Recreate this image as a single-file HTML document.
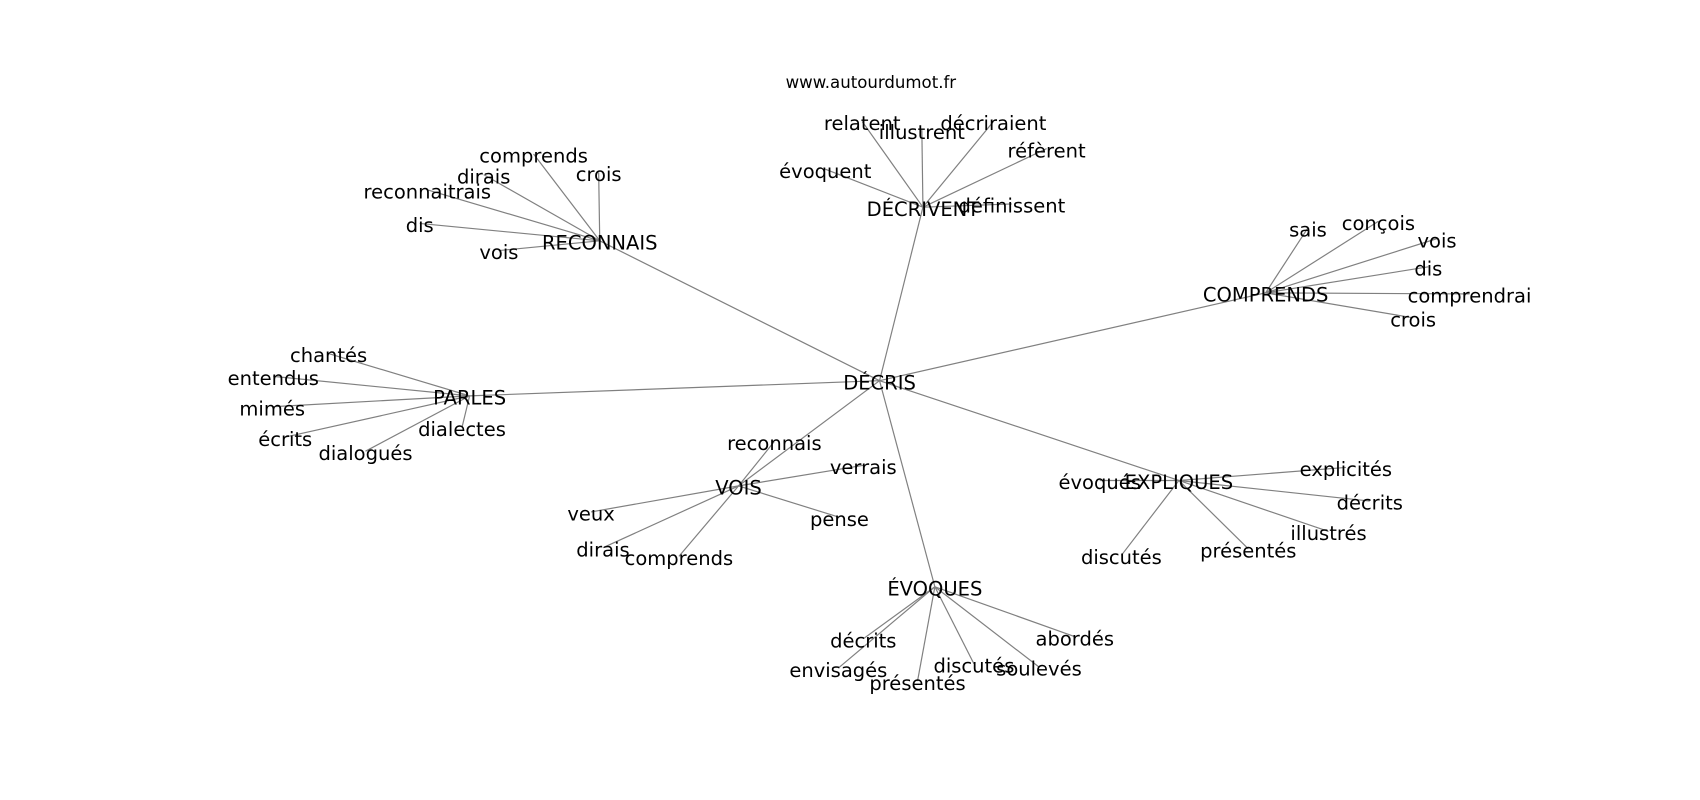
<!DOCTYPE html>
<html><head><meta charset="utf-8"><style>
html,body{margin:0;padding:0;background:#fff;}
svg{display:block}
text{font-family:"DejaVu Sans","Liberation Sans",sans-serif;font-size:18px;fill:#000;text-anchor:middle;dominant-baseline:central}
line{stroke:#808080;stroke-width:1.1}
</style></head><body>
<svg width="1700" height="800" viewBox="0 0 1567.5 737.6" xmlns="http://www.w3.org/2000/svg">
<g id="L"></g>
<text x="803" y="76" style="font-size:15.3px">www.autourdumot.fr</text>
<g id="T"></g>
<script>
const N={
"DÉCRIS":[811,353],
"DÉCRIVENT":[851,193],"RECONNAIS":[553,224],"COMPRENDS":[1167,272],"PARLES":[433,367],"VOIS":[681,450],"EXPLIQUES":[1087,445],"ÉVOQUES":[862,543]};
const C={
"DÉCRIVENT":[["relatent",795,114],["illustrent",850,122],["décriraient",916,114],["réfèrent",965,139],["évoquent",761,158],["définissent",933,190]],
"RECONNAIS":[["comprends",492,144],["crois",552,161],["dirais",446,163],["reconnaitrais",394,177],["dis",387,208],["vois",460,233]],
"COMPRENDS":[["sais",1206,212],["conçois",1271,206],["vois",1325,222],["dis",1317,248],["comprendrai",1355,273],["crois",1303,295]],
"PARLES":[["chantés",303,328],["entendus",252,349],["mimés",251,377],["écrits",263,405],["dialogués",337,418],["dialectes",426,396]],
"VOIS":[["reconnais",714,409],["verrais",796,431],["veux",545,474],["pense",774,479],["dirais",556,507],["comprends",626,515]],
"EXPLIQUES":[["évoqués",1014,445],["explicités",1241,433],["décrits",1263,464],["illustrés",1225,492],["présentés",1151,508],["discutés",1034,514]],
"ÉVOQUES":[["décrits",796,591],["envisagés",773,618],["présentés",846,630],["discutés",898,614],["soulevés",958,617],["abordés",991,589]]};
const ns="http://www.w3.org/2000/svg",L=document.getElementById("L"),T=document.getElementById("T");
function ln(a,b,c,d){const l=document.createElementNS(ns,"line");l.setAttribute("x1",a);l.setAttribute("y1",b-2);l.setAttribute("x2",c);l.setAttribute("y2",d-2);L.appendChild(l);}
function tx(s,x,y){const t=document.createElementNS(ns,"text");t.setAttribute("x",x);t.setAttribute("y",y);t.textContent=s;T.appendChild(t);}
const r=N["DÉCRIS"];
for(const k in C){const p=N[k];ln(r[0],r[1],p[0],p[1]);for(const c of C[k]){ln(p[0],p[1],c[1],c[2]);tx(c[0],c[1],c[2]);}}
for(const k in N)tx(k,N[k][0],N[k][1]);
</script>
</svg>
</body></html>
